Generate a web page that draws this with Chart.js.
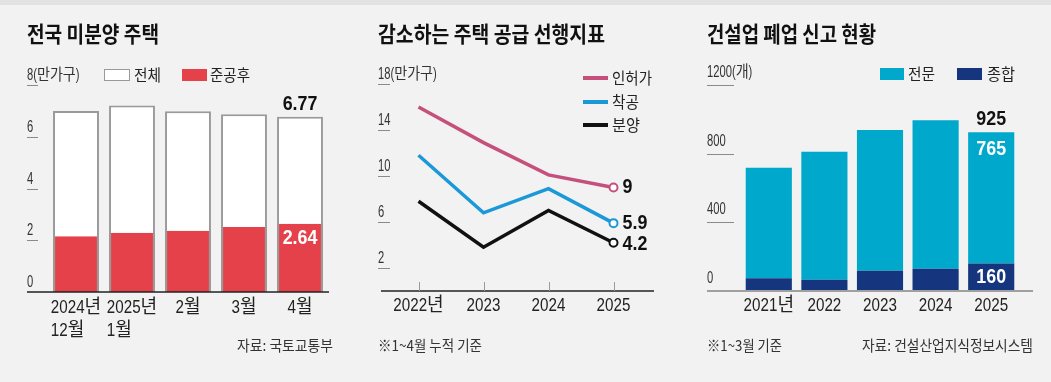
<!DOCTYPE html>
<html><head><meta charset="utf-8">
<script src="https://cdn.jsdelivr.net/npm/chart.js@4.4.1/dist/chart.umd.min.js"></script>
<style>
html,body{margin:0;padding:0;background:#f2f2f2;}
#wrap{position:relative;width:1051px;height:382px;overflow:hidden;background:#f2f2f2;font-family:"Noto Sans CJK KR",sans-serif;}
#topbar{position:absolute;left:0;top:0;width:1051px;height:5px;background:#e3e3e3;}
canvas{position:absolute;top:0;}
.t{position:absolute;white-space:nowrap;transform-origin:0 50%;}
.box{position:absolute;box-sizing:border-box;}
</style></head>
<body><div id="wrap"><div id="topbar"></div>
<canvas id="c1" width="350" height="382" style="left:0px"></canvas>
<canvas id="c2" width="350" height="382" style="left:350px"></canvas>
<canvas id="c3" width="351" height="382" style="left:700px"></canvas>
</div>
<script>
// ---------- DATA ----------
const unsoldCats = [['2024년','12월'],['2025년','1월'],['2월'],['3월'],['4월']];
const unsoldTotal = [7.00, 7.21, 6.99, 6.87, 6.77];
const unsoldCompleted = [2.15, 2.29, 2.37, 2.51, 2.64];
const unsoldTicks = [0, 2, 4, 6, 8];

const supplyYears = [['2022년'],['2023'],['2024'],['2025']];
const permits = [16.0, 12.9, 10.1, 9.0];
const starts = [11.8, 6.8, 8.9, 5.9];
const sales = [7.8, 3.8, 7.0, 4.2];
const supplyTicks = [2, 6, 10, 14, 18];

const closureYears = [['2021년'],['2022'],['2023'],['2024'],['2025']];
const closureSpecial = [644, 745, 820, 864, 765];
const closureGeneral = [74, 66, 118, 130, 160];
const closureTicks = [0, 400, 800, 1200];

// ---------- STYLE ----------
const RED = '#e5414b', CYAN = '#00a9cc', NAVY = '#15367f';
const PINK = '#c5507c', BLUE = '#1a98d8', BLACK = '#111111';
const FAM = '"Liberation Sans","Noto Sans CJK KR",sans-serif';
const HANGUL = /[\uAC00-\uD7A3\u3130-\u318F]/;

// draws text with condensed Latin/digit runs (narrow look of the original)
function drawMixed(ctx, text, x, y, o) {
  ctx.font = (o.bold ? 'bold ' : '') + o.size + 'px ' + FAM;
  const parts = text.match(/[\uAC00-\uD7A3\u3130-\u318F]+|[^\uAC00-\uD7A3\u3130-\u318F]+/g) || [];
  const rs = parts.map(r => { const k = HANGUL.test(r) ? o.kh : o.kd; return { r, k, w: ctx.measureText(r).width * k }; });
  const total = rs.reduce((a, b) => a + b.w, 0);
  if (o.measureOnly) return total;
  let cx = o.align === 'center' ? x - total / 2 : (o.align === 'right' ? x - total : x);
  ctx.textAlign = 'left'; ctx.textBaseline = 'middle';
  rs.forEach(s => { ctx.save(); ctx.translate(cx, y); ctx.scale(s.k, 1); ctx.fillText(s.r, 0, 0); ctx.restore(); cx += s.w; });
  return total;
}

function yTicksPlugin(o) {
  return { id: 'yticks', afterDraw(chart) {
    const ctx = chart.ctx, ys = chart.scales.y;
    ctx.save();
    o.ticks.forEach((v, i) => {
      const py = Math.round(ys.getPixelForValue(v)) + 0.5;
      if (v !== 0) {
        ctx.strokeStyle = '#8a8a8a'; ctx.lineWidth = 1;
        ctx.beginPath(); ctx.moveTo(o.x, py); ctx.lineTo(o.x + o.len, py); ctx.stroke();
      }
      ctx.fillStyle = '#333';
      const t = (i === o.ticks.length - 1) ? v + o.unit : String(v);
      drawMixed(ctx, t, o.x, py - o.dy, { size: 16, kd: 0.7, kh: 0.88, align: 'left' });
    });
    ctx.restore();
  }};
}
function xLabelsPlugin(o) {
  return { id: 'xlabels', afterDraw(chart) {
    const ctx = chart.ctx, xs = chart.scales.x, bottom = chart.chartArea.bottom;
    ctx.save();
    ctx.fillStyle = '#222';
    const st = { size: 19, kd: 0.8, kh: 0.95, align: 'left' };
    o.labels.forEach((lines, i) => {
      const cx = xs.getPixelForValue(i);
      const w0 = drawMixed(ctx, lines[0], 0, 0, Object.assign({ measureOnly: true }, st));
      const left = cx - w0 / 2;
      lines.forEach((ln, k) => drawMixed(ctx, ln, left, bottom + o.dy + k * 23, st));
    });
    if (o.axis) {
      ctx.strokeStyle = o.axis.color; ctx.lineWidth = o.axis.w;
      ctx.beginPath(); ctx.moveTo(o.axis.x0, bottom); ctx.lineTo(o.axis.x1, bottom); ctx.stroke();
    }
    if (o.tickMarks) {
      ctx.strokeStyle = '#9a9a9a'; ctx.lineWidth = 1;
      o.labels.forEach((l, i) => {
        const px = Math.round(xs.getPixelForValue(i)) + 0.5;
        ctx.beginPath(); ctx.moveTo(px, bottom - 9); ctx.lineTo(px, bottom); ctx.stroke();
      });
    }
    ctx.restore();
  }};
}
const VAL = { size: 21, bold: true, kd: 0.85, kh: 1, align: 'center' };
const base = (pad, ymax, stacked) => ({
  responsive: false, animation: false, devicePixelRatio: 1,
  layout: { padding: pad },
  plugins: { legend: { display: false }, tooltip: { enabled: false } },
  scales: {
    x: { display: false, offset: true, stacked: !!stacked },
    y: { display: false, min: 0, max: ymax, stacked: !!stacked }
  }
});

// ---------- PANEL 1 ----------
new Chart(document.getElementById('c1'), {
  type: 'bar',
  data: {
    labels: unsoldCats.map(l => l.join(' ')),
    datasets: [
      { label: '준공후', data: unsoldCompleted, backgroundColor: RED, borderColor: '#9a9a9a',
        borderWidth: { top: 0, left: 2, right: 2, bottom: 0 }, grouped: false, order: 0,
        barPercentage: 0.82, categoryPercentage: 1 },
      { label: '전체', data: unsoldTotal, backgroundColor: '#ffffff', borderColor: '#9a9a9a',
        borderWidth: 2, borderSkipped: 'bottom', grouped: false, order: 1,
        barPercentage: 0.82, categoryPercentage: 1 }
    ]
  },
  options: base({ left: 48, right: 22, top: 85, bottom: 90 }, 8),
  plugins: [
    yTicksPlugin({ ticks: unsoldTicks, x: 27, len: 11, unit: '(만가구)', dy: 10 }),
    xLabelsPlugin({ labels: unsoldCats, dy: 16, axis: { x0: 27, x1: 329, color: '#222', w: 1.5 } }),
    { id: 'vals', afterDraw(chart) {
      const ctx = chart.ctx;
      const red = chart.getDatasetMeta(0).data, wh = chart.getDatasetMeta(1).data;
      const n = unsoldTotal.length - 1;
      ctx.save();
      ctx.fillStyle = '#111'; drawMixed(ctx, unsoldTotal[n].toFixed(2), wh[n].x, wh[n].y - 13, VAL);
      ctx.fillStyle = '#fff'; drawMixed(ctx, unsoldCompleted[n].toFixed(2), red[n].x, red[n].y + 15, VAL);
      ctx.restore();
    }}
  ]
});

// ---------- PANEL 2 ----------
const lineDs = (label, data, color) => ({
  label, data, borderColor: color, borderWidth: 3.5, tension: 0, fill: false,
  pointRadius: data.map((v, i) => i === data.length - 1 ? 4 : 0),
  pointBorderWidth: 2, pointBackgroundColor: '#fff', pointBorderColor: color
});
new Chart(document.getElementById('c2'), {
  type: 'line',
  data: { labels: supplyYears.map(l => l[0]),
    datasets: [lineDs('인허가', permits, PINK), lineDs('착공', starts, BLUE), lineDs('분양', sales, BLACK)] },
  options: Object.assign(base({ left: 36, right: 54, top: 84, bottom: 91 }, 18), { clip: false }),
  plugins: [
    yTicksPlugin({ ticks: supplyTicks, x: 28, len: 12, unit: '(만가구)', dy: 10 }),
    xLabelsPlugin({ labels: supplyYears, dy: 15, tickMarks: true, axis: { x0: 31, x1: 304, color: '#222', w: 1.5 } }),
    { id: 'ends', afterDraw(chart) {
      const ctx = chart.ctx; const dys = [0, 0, 2];
      ctx.save(); ctx.fillStyle = '#111';
      [permits, starts, sales].forEach((arr, d) => {
        const pts = chart.getDatasetMeta(d).data, p = pts[pts.length - 1];
        drawMixed(ctx, String(arr[arr.length - 1]), p.x + 9, p.y + dys[d], Object.assign({}, VAL, { align: 'left' }));
      });
      ctx.restore();
    }}
  ]
});

// ---------- PANEL 3 ----------
new Chart(document.getElementById('c3'), {
  type: 'bar',
  data: { labels: closureYears.map(l => l[0]),
    datasets: [
      { label: '종합', data: closureGeneral, backgroundColor: NAVY, barPercentage: 0.83, categoryPercentage: 1 },
      { label: '전문', data: closureSpecial, backgroundColor: CYAN, barPercentage: 0.83, categoryPercentage: 1 }
    ] },
  options: base({ left: 41, right: 32, top: 85, bottom: 91 }, 1200, true),
  plugins: [
    yTicksPlugin({ ticks: closureTicks, x: 7, len: 27, unit: '(개)', dy: 13 }),
    xLabelsPlugin({ labels: closureYears, dy: 15, axis: { x0: 7, x1: 333, color: '#a0a0a0', w: 2 } }),
    { id: 'vals3', afterDraw(chart) {
      const ctx = chart.ctx; const n = closureSpecial.length - 1;
      const g = chart.getDatasetMeta(0).data[n], s = chart.getDatasetMeta(1).data[n];
      ctx.save();
      ctx.fillStyle = '#111'; drawMixed(ctx, String(closureSpecial[n] + closureGeneral[n]), s.x, s.y - 13, VAL);
      ctx.fillStyle = '#fff'; drawMixed(ctx, String(closureSpecial[n]), s.x, s.y + 17, VAL);
      drawMixed(ctx, String(closureGeneral[n]), g.x, g.y + 14, VAL);
      ctx.restore();
    }}
  ]
});

// ---------- HTML TEXT (titles, legends, notes) ----------
const wrap = document.getElementById('wrap');
function txt(text, o) {
  const s = document.createElement('span');
  s.className = 't'; s.textContent = text;
  s.style.fontSize = o.size + 'px'; s.style.lineHeight = o.size + 'px';
  s.style.fontWeight = o.bold ? '700' : '400';
  s.style.color = o.color || '#222';
  wrap.appendChild(s);
  const w = s.getBoundingClientRect().width;
  s.style.transform = 'scaleX(' + (o.w / w) + ')';
  s.style.left = (o.right !== undefined ? o.right - o.w : o.left) + 'px';
  s.style.top = (o.cy - o.size / 2 - 1) + 'px';
}
function box(o) {
  const d = document.createElement('div'); d.className = 'box';
  Object.assign(d.style, { left: o.l + 'px', top: o.t + 'px', width: o.w + 'px', height: o.h + 'px', background: o.bg });
  if (o.border) d.style.border = o.border;
  wrap.appendChild(d);
}
// titles
txt('전국 미분양 주택', { left: 27, cy: 33, size: 22, bold: true, w: 132, color: '#111' });
txt('감소하는 주택 공급 선행지표', { left: 378, cy: 33, size: 22, bold: true, w: 227, color: '#111' });
txt('건설업 폐업 신고 현황', { left: 707, cy: 33, size: 22, bold: true, w: 169, color: '#111' });
// legend panel 1
box({ l: 104, t: 69, w: 26, h: 12, bg: '#fff', border: '1.5px solid #9a9a9a' });
txt('전체', { left: 134, cy: 75, size: 16, w: 27 });
box({ l: 182, t: 69, w: 25, h: 12, bg: RED });
txt('준공후', { left: 210, cy: 75, size: 16, w: 40 });
// legend panel 2
box({ l: 583, t: 76, w: 25, h: 4, bg: PINK });
txt('인허가', { left: 612, cy: 78, size: 16, w: 40 });
box({ l: 583, t: 100, w: 25, h: 4, bg: BLUE });
txt('착공', { left: 612, cy: 102, size: 16, w: 27 });
box({ l: 583, t: 123, w: 25, h: 4, bg: BLACK });
txt('분양', { left: 612, cy: 125, size: 16, w: 28 });
// legend panel 3
box({ l: 880, t: 68, w: 24, h: 12, bg: CYAN });
txt('전문', { left: 908, cy: 74, size: 16, w: 27 });
box({ l: 957, t: 68, w: 25, h: 12, bg: NAVY });
txt('종합', { left: 987, cy: 74, size: 16, w: 28 });
// notes
txt('자료: 국토교통부', { right: 333, cy: 345, size: 15, w: 96, color: '#333' });
txt('※1~4월 누적 기준', { left: 378, cy: 345, size: 15, w: 104, color: '#333' });
txt('※1~3월 기준', { left: 707, cy: 345, size: 15, w: 75, color: '#333' });
txt('자료: 건설산업지식정보시스템', { right: 1033, cy: 345, size: 15, w: 171, color: '#333' });
</script>
</body></html>
